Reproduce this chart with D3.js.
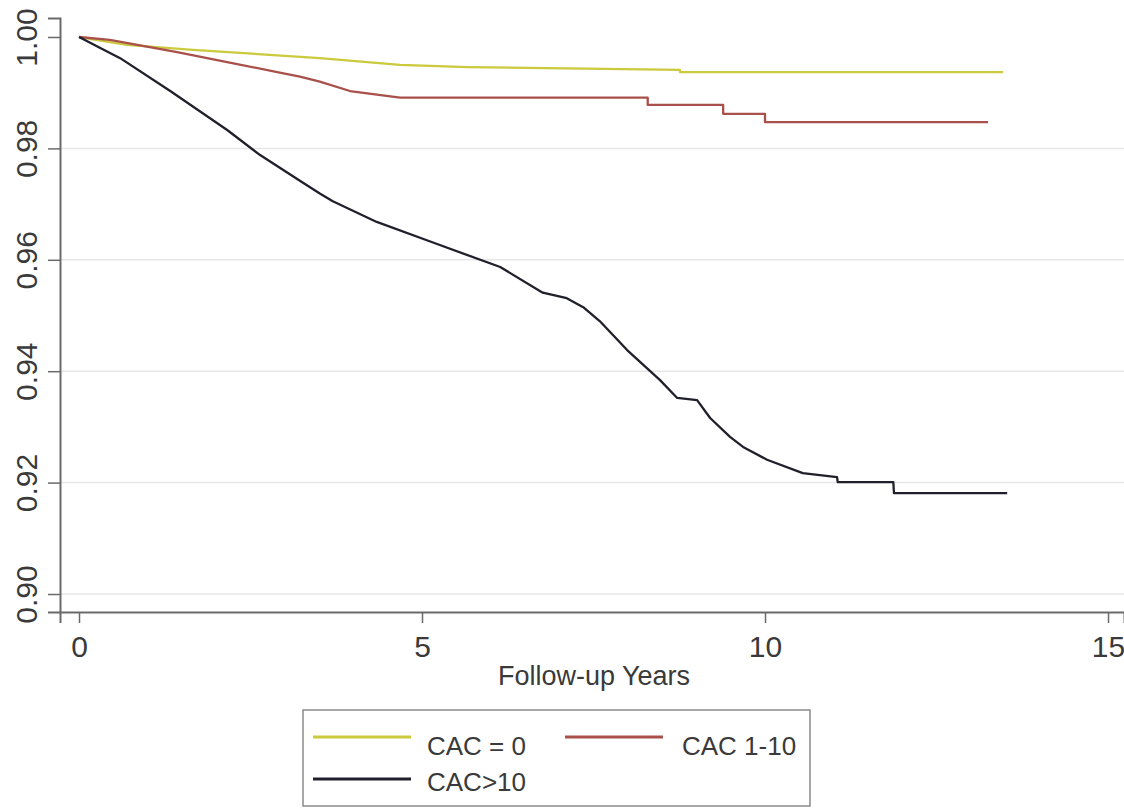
<!DOCTYPE html>
<html>
<head>
<meta charset="utf-8">
<script src="https://cdn.jsdelivr.net/npm/d3@7"></script>
<style>
  body { margin: 0; background: #fff; }
  svg { display: block; font-family: "Liberation Sans", Arial, sans-serif; }
</style>
</head>
<body>
<svg id="chart"></svg>
<script>
// survival estimates
var cac0Years = [0, 0.70, 1.66, 3.51, 4.68, 5.66, 8.76, 8.76, 13.47];
var cac0Surv  = [1.0, 0.9986, 0.9977, 0.9962, 0.9950, 0.9946, 0.9941, 0.9937, 0.9937];

var cac110Years = [0, 0.45, 1.43, 2.16, 2.89, 3.22, 3.51, 3.95, 4.68, 8.29, 8.29, 9.39, 9.39, 10.0, 10.0, 13.25];
var cac110Surv  = [1.0, 0.9995, 0.9973, 0.9955, 0.9937, 0.9929, 0.9920, 0.9903, 0.9891, 0.9891, 0.9878, 0.9878, 0.9862, 0.9862, 0.9847, 0.9847];

var cac10Years = [0, 0.60, 1.33, 2.16, 2.64, 3.22, 3.51, 3.70, 4.34, 5.16, 6.14, 6.76, 7.11, 7.35, 7.59, 7.99, 8.47, 8.72, 9.01, 9.20, 9.49, 9.68, 10.03, 10.55, 11.05, 11.06, 11.87, 11.88, 13.53];
var cac10Surv  = [1.0, 0.9962, 0.9903, 0.9833, 0.9788, 0.9742, 0.9719, 0.9705, 0.9668, 0.9631, 0.9587, 0.9541, 0.9531, 0.9515, 0.9490, 0.9438, 0.9384, 0.9352, 0.9348, 0.9316, 0.9282, 0.9264, 0.9241, 0.9217, 0.9210, 0.9201, 0.9201, 0.9181, 0.9181];

var seriesNames = ["CAC = 0", "CAC 1-10", "CAC>10"];
var xTicks = [0, 5, 10, 15];
var yTicks = [0.90, 0.92, 0.94, 0.96, 0.98, 1.00];

var svgWidth = 1124, svgHeight = 810;

var svg = d3.select("#chart")
  .attr("width", svgWidth)
  .attr("height", svgHeight);

// scales: 0 -> 79px, 15 -> 1108px ; 1.00 -> 37px, 0.90 -> 594px
var x = d3.scaleLinear().domain([-0.277, 15.233]).range([60, 1124]);
var y = d3.scaleLinear().domain([0.89677, 1.00341]).range([612, 18]);

var colors = ["#cbc93c", "#a9504b", "#20202c"];

// gridlines
svg.append("g")
  .selectAll("line")
  .data(yTicks.filter(function(d) { return d < 1; }))
  .enter().append("line")
  .attr("x1", 61).attr("x2", 1124)
  .attr("y1", function(d) { return y(d); })
  .attr("y2", function(d) { return y(d); })
  .attr("stroke", "#e6e6e6")
  .attr("stroke-width", 1.5);

// Y axis
var yAxis = svg.append("g")
  .attr("transform", "translate(60,0)")
  .call(d3.axisLeft(y).tickValues(yTicks).tickSize(12).tickFormat(d3.format(".2f")));
yAxis.select(".domain").attr("stroke", "#6a6a6a").attr("stroke-width", 2);
yAxis.selectAll(".tick line").attr("stroke", "#6a6a6a").attr("stroke-width", 1.5);
yAxis.selectAll(".tick text")
  .attr("font-size", 30)
  .attr("fill", "#3a3a3a")
  .attr("text-anchor", "middle")
  .attr("x", null).attr("dy", null)
  .attr("transform", "translate(-23,0) rotate(-90)");

// X axis
var xAxis = svg.append("g")
  .attr("transform", "translate(0,612)")
  .call(d3.axisBottom(x).tickValues(xTicks).tickSize(11).tickFormat(d3.format("d")));
xAxis.select(".domain").attr("stroke", "#6a6a6a").attr("stroke-width", 2);
xAxis.selectAll(".tick line").attr("stroke", "#6a6a6a").attr("stroke-width", 1.5);
xAxis.selectAll(".tick text")
  .attr("font-size", 30)
  .attr("fill", "#3a3a3a")
  .attr("y", 45).attr("dy", null);

svg.append("text")
  .attr("x", 594)
  .attr("y", 685)
  .attr("text-anchor", "middle")
  .attr("font-size", 27)
  .attr("fill", "#3a3a3a")
  .text("Follow-up Years");

// curves
var allSeries = [
  d3.zip(cac0Years, cac0Surv),
  d3.zip(cac110Years, cac110Surv),
  d3.zip(cac10Years, cac10Surv)
];

var line = d3.line()
  .x(function(d) { return x(d[0]); })
  .y(function(d) { return y(d[1]); });

allSeries.forEach(function(s, i) {
  svg.append("path")
    .datum(s)
    .attr("fill", "none")
    .attr("stroke", colors[i])
    .attr("stroke-width", 2.3)
    .attr("stroke-linejoin", "round")
    .attr("d", line);
});

// legend
var legend = svg.append("g");
legend.append("rect")
  .attr("x", 303).attr("y", 710)
  .attr("width", 507).attr("height", 96)
  .attr("fill", "#fff")
  .attr("stroke", "#8a8a8a")
  .attr("stroke-width", 1.5);

var legendPos = [
  { lx: 313, ly: 737, tx: 427, ty: 755 },
  { lx: 565, ly: 737, tx: 682, ty: 755 },
  { lx: 313, ly: 779, tx: 427, ty: 791 }
];

seriesNames.forEach(function(name, i) {
  var p = legendPos[i];
  legend.append("line")
    .attr("x1", p.lx).attr("x2", p.lx + 98)
    .attr("y1", p.ly).attr("y2", p.ly)
    .attr("stroke", colors[i])
    .attr("stroke-width", 3);
  legend.append("text")
    .attr("x", p.tx).attr("y", p.ty)
    .attr("font-size", 26)
    .attr("fill", "#3a3a3a")
    .text(name);
});
</script>
</body>
</html>
